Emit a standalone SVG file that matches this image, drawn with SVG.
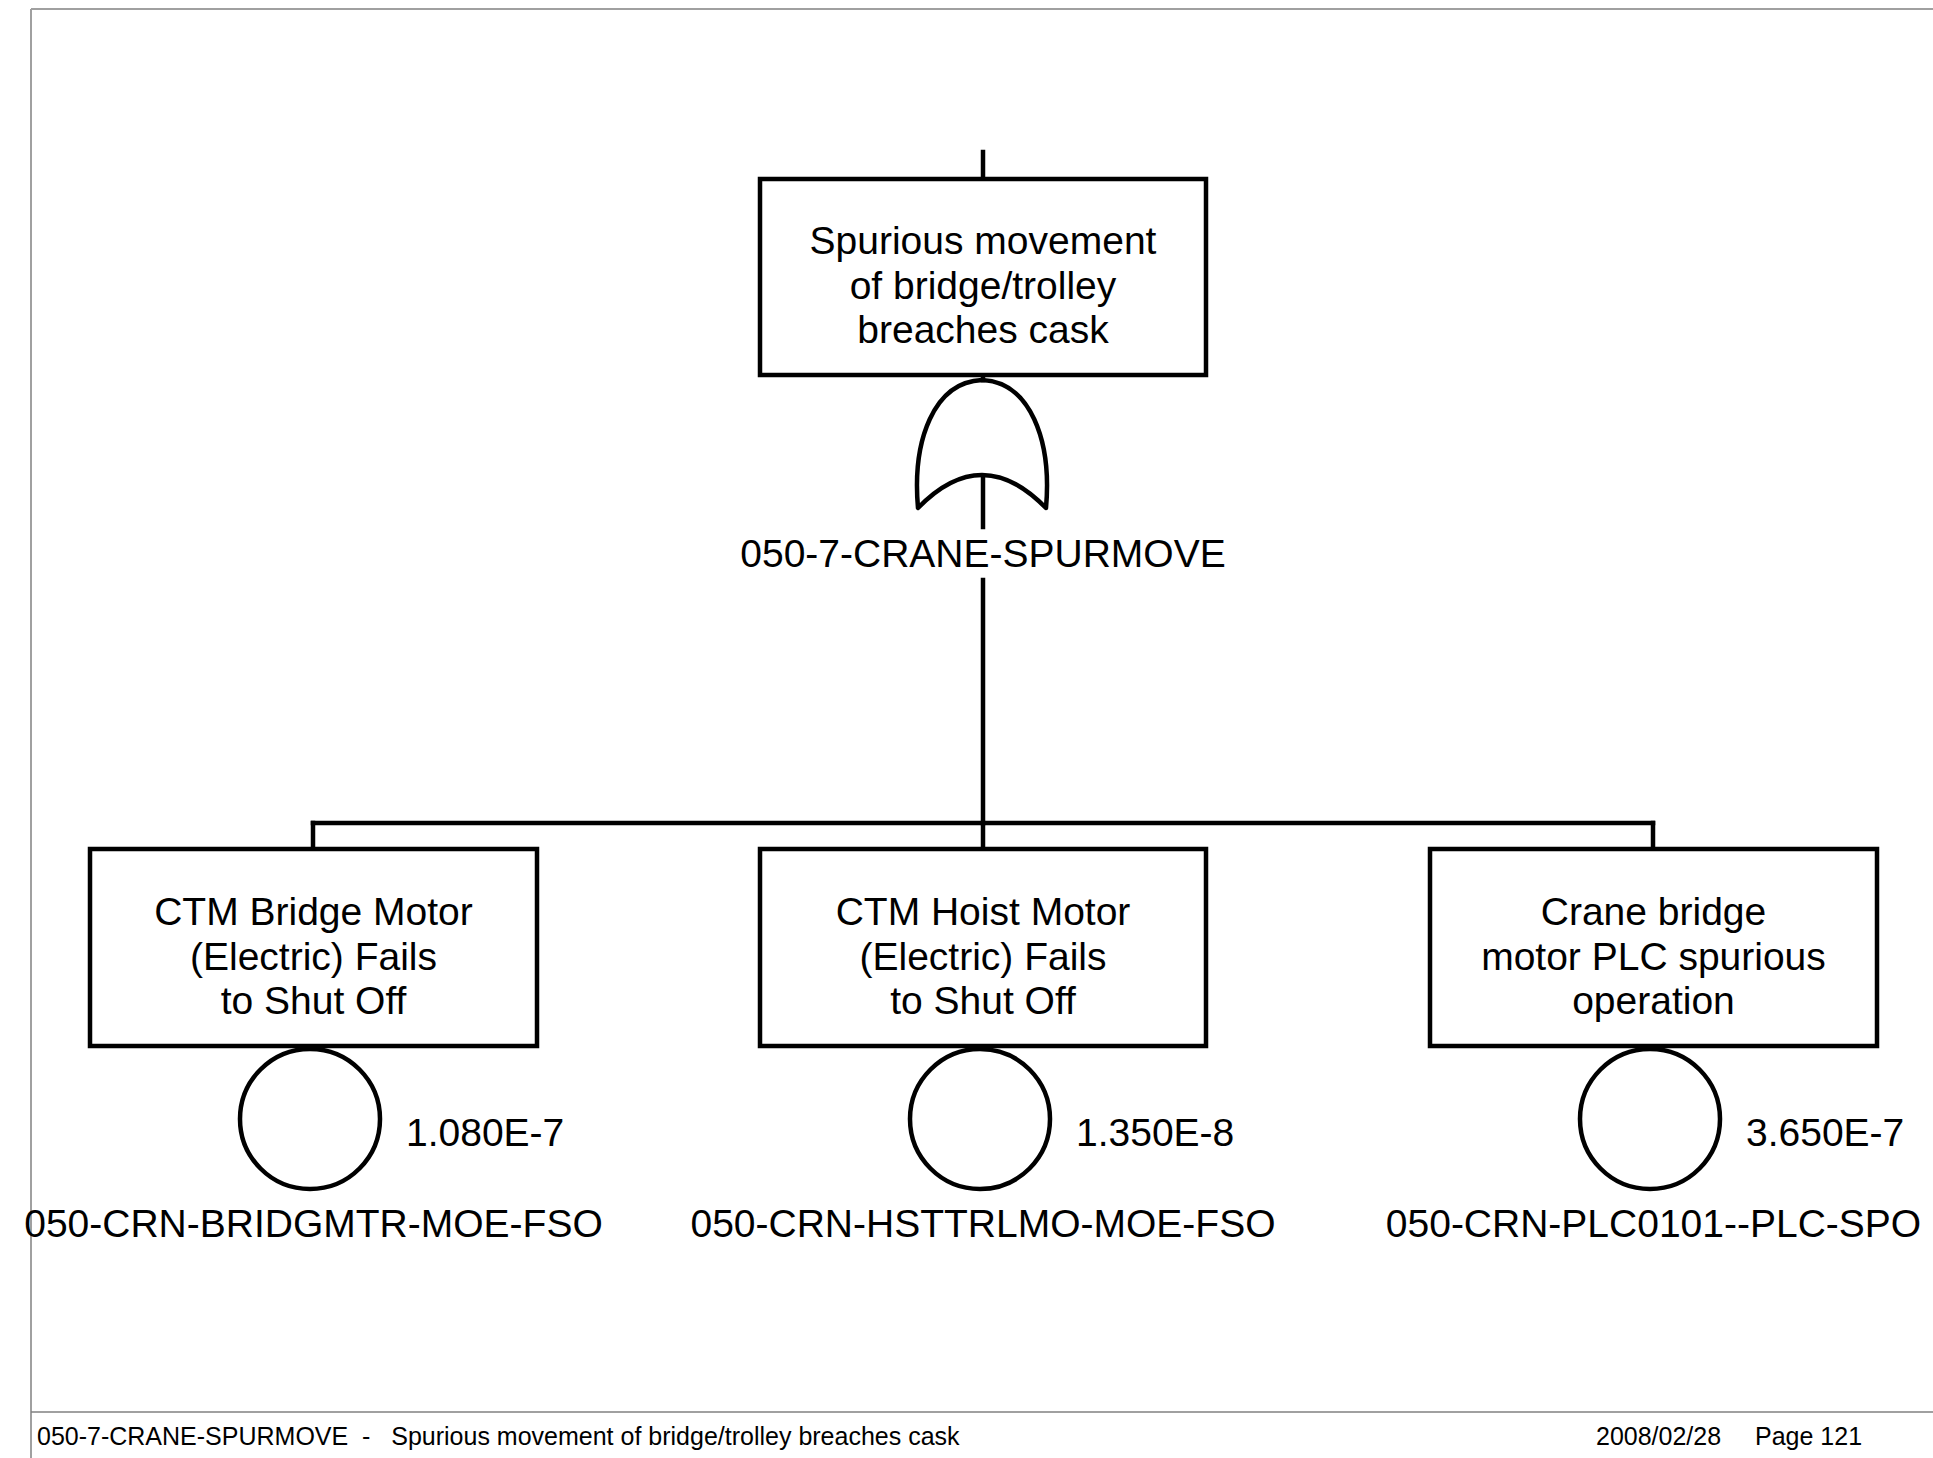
<svg xmlns="http://www.w3.org/2000/svg" width="1933" height="1458" viewBox="0 0 1933 1458">
<style>
.ln{stroke:#000;stroke-width:4.5;fill:none;stroke-linecap:square}
.bx{stroke:#000;stroke-width:4.5;fill:#fff}
.t{font-family:"Liberation Sans",Arial,sans-serif;font-size:39px;fill:#000;text-anchor:middle}
.p{font-family:"Liberation Sans",Arial,sans-serif;font-size:39px;fill:#000}
.f{font-family:"Liberation Sans",Arial,sans-serif;font-size:25px;fill:#000}
</style>
<rect width="1933" height="1458" fill="#fff"/>
<g id="frame">
<line x1="31" y1="9" x2="1933" y2="9" stroke="#a0a0a0" stroke-width="2"/>
<line x1="31" y1="9" x2="31" y2="1458" stroke="#a0a0a0" stroke-width="2"/>
<line x1="31" y1="1412" x2="1933" y2="1412" stroke="#808080" stroke-width="1.5"/>
</g>
<g id="connectors">
<line class="ln" x1="983" y1="152" x2="983" y2="179"/>
<line class="ln" x1="983" y1="375" x2="983" y2="380"/>
<line class="ln" x1="983" y1="476" x2="983" y2="527"/>
<line class="ln" x1="983" y1="580" x2="983" y2="823"/>
<line class="ln" x1="313" y1="823" x2="1653" y2="823"/>
<line class="ln" x1="313" y1="823" x2="313" y2="849"/>
<line class="ln" x1="983" y1="823" x2="983" y2="849"/>
<line class="ln" x1="1653" y1="823" x2="1653" y2="849"/>
</g>
<g id="top-event">
<rect class="bx" x="760" y="179" width="446" height="196"/>
<text class="t" x="983" y="254">Spurious movement</text>
<text class="t" x="983" y="298.5">of bridge/trolley</text>
<text class="t" x="983" y="343">breaches cask</text>
</g>
<g id="gate">
<path class="ln" d="M918,508 C912,440 934,382 982,380 C1030,382 1052,440 1046,508 Q982,442 918,508 Z" stroke-linejoin="round"/>
<text class="t" x="983" y="567">050-7-CRANE-SPURMOVE</text>
</g>
<g id="event-bridge">
<rect class="bx" x="90" y="849" width="447" height="197"/>
<text class="t" x="313.5" y="925">CTM Bridge Motor</text>
<text class="t" x="313.5" y="969.5">(Electric) Fails</text>
<text class="t" x="313.5" y="1014">to Shut Off</text>
<circle class="ln" cx="310" cy="1119" r="70"/>
<text class="p" x="406" y="1146">1.080E-7</text>
<text class="t" x="313.5" y="1237">050-CRN-BRIDGMTR-MOE-FSO</text>
</g>
<g id="event-hoist">
<rect class="bx" x="760" y="849" width="446" height="197"/>
<text class="t" x="983" y="925">CTM Hoist Motor</text>
<text class="t" x="983" y="969.5">(Electric) Fails</text>
<text class="t" x="983" y="1014">to Shut Off</text>
<circle class="ln" cx="980" cy="1119" r="70"/>
<text class="p" x="1076" y="1146">1.350E-8</text>
<text class="t" x="983" y="1237">050-CRN-HSTTRLMO-MOE-FSO</text>
</g>
<g id="event-plc">
<rect class="bx" x="1430" y="849" width="447" height="197"/>
<text class="t" x="1653.5" y="925">Crane bridge</text>
<text class="t" x="1653.5" y="969.5">motor PLC spurious</text>
<text class="t" x="1653.5" y="1014">operation</text>
<circle class="ln" cx="1650" cy="1119" r="70"/>
<text class="p" x="1746" y="1146">3.650E-7</text>
<text class="t" x="1653.5" y="1237">050-CRN-PLC0101--PLC-SPO</text>
</g>
<g id="footer">
<text class="f" x="37" y="1445" xml:space="preserve">050-7-CRANE-SPURMOVE  -   Spurious movement of bridge/trolley breaches cask</text>
<text class="f" x="1596" y="1445">2008/02/28</text>
<text class="f" x="1755" y="1445">Page 121</text>
</g>
</svg>
